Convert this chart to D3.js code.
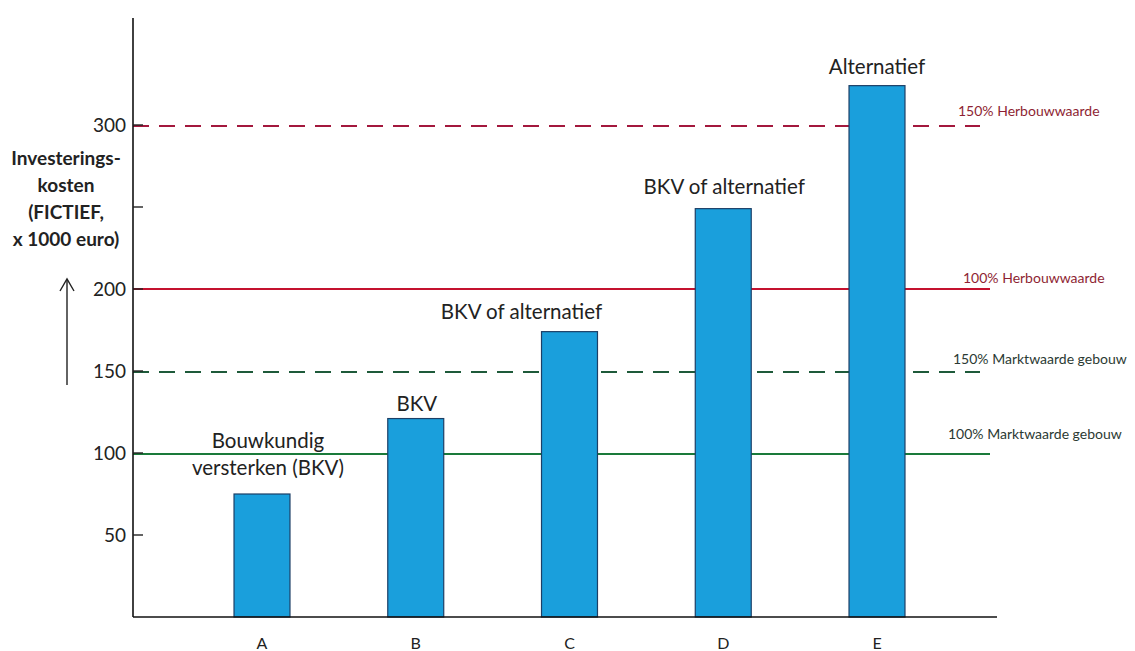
<html>
<head>
<title>Investeringskosten</title>
<script src="https://d3js.org/d3.v7.min.js"></script>
<style>
body { margin: 0; background: #fff; }
svg text { font-family: Lato, "Open Sans", sans-serif; fill: #222; }
.tick-label { font-size: 19px; }
.cat-label { font-size: 16px; }
.bar-label { font-size: 20.5px; }
.ref-label { font-size: 14px; }
.axis-title { font-size: 19px; font-weight: bold; }
</style>
</head>
<body>
<div id="vis_container"></div>
<script>
// data
var categories = ["A", "B", "C", "D", "E"];
var costs = [75, 121, 174, 249, 324];
var barLabels = [["Bouwkundig", "versterken (BKV)"], ["BKV"], ["BKV of alternatief"], ["BKV of alternatief"], ["Alternatief"]];
var tickValues = [50, 100, 150, 200, 250, 300];
var tickLabels = ["50", "100", "150", "200", "", "300"];
var refValues = [300, 200, 150, 100];
var refNames = ["150% Herbouwwaarde", "100% Herbouwwaarde", "150% Marktwaarde gebouw", "100% Marktwaarde gebouw"];
var refColors = ["#a3183d", "#c4122f", "#1e5a3a", "#1a7a3a"];
var refDashed = [true, false, true, false];

var width = 1135, height = 651;
var left = 133, base = 617;

var svg = d3.select("#vis_container").append("svg")
    .attr("width", width).attr("height", height);

var y = d3.scaleLinear().domain([0, 300]).range([base, 125]);
var x = d3.scaleBand().domain(categories)
    .range([left, 1006]).paddingInner(0.636).paddingOuter(0.657);

// reference lines (behind the bars)
var refEnd = [980, 990, 980, 990];
var refShift = [1, 0, 1, 1];
svg.selectAll("line.ref").data(refValues).enter().append("line")
    .attr("class", "ref")
    .attr("x1", left).attr("x2", function(d, i) { return refEnd[i]; })
    .attr("y1", function(d, i) { return y(d) + refShift[i]; })
    .attr("y2", function(d, i) { return y(d) + refShift[i]; })
    .attr("stroke", function(d, i) { return refColors[i]; })
    .attr("stroke-width", 2.2)
    .attr("stroke-dasharray", function(d, i) { return refDashed[i] ? "16,10" : null; });

var refLabelX = [958, 963, 953, 948];
var refLabelDy = [-9, -6, -7, -14];
svg.selectAll("text.ref").data(refValues).enter().append("text")
    .attr("class", "ref-label")
    .attr("x", function(d, i) { return refLabelX[i]; })
    .attr("y", function(d, i) { return y(d) + refLabelDy[i]; })
    .style("fill", function(d, i) { return i < 2 ? "#8e1f33" : "#2b3a33"; })
    .text(function(d, i) { return refNames[i]; });

// bars
svg.selectAll("rect.bar").data(costs).enter().append("rect")
    .attr("class", "bar")
    .attr("x", function(d, i) { return x(categories[i]); })
    .attr("width", x.bandwidth())
    .attr("y", function(d) { return y(d); })
    .attr("height", function(d) { return base - y(d); })
    .attr("fill", "#1a9fdc")
    .attr("stroke", "#1c3f66")
    .attr("stroke-width", 1.2);

// labels above bars
var labelShift = [6, 1, -48, 1, 0];
var labelGap = [[-46, -19], [-8], [-13], [-15], [-12]];
categories.forEach(function(c, i) {
    barLabels[i].forEach(function(line, j) {
        svg.append("text")
            .attr("class", "bar-label")
            .attr("x", x(c) + x.bandwidth() / 2 + labelShift[i])
            .attr("y", y(costs[i]) + labelGap[i][j])
            .attr("text-anchor", "middle")
            .text(line);
    });
});

// axes
svg.append("line").attr("x1", left).attr("x2", left).attr("y1", 18).attr("y2", base)
    .attr("stroke", "#111").attr("stroke-width", 1.6);
svg.append("line").attr("x1", left).attr("x2", 997).attr("y1", base).attr("y2", base)
    .attr("stroke", "#111").attr("stroke-width", 1.6);

svg.selectAll("line.tick").data(tickValues).enter().append("line")
    .attr("x1", left).attr("x2", left + 10)
    .attr("y1", function(d) { return y(d); }).attr("y2", function(d) { return y(d); })
    .attr("stroke", "#222").attr("stroke-width", 1.4);

svg.selectAll("text.tick").data(tickValues).enter().append("text")
    .attr("class", "tick-label")
    .attr("x", left - 7)
    .attr("y", function(d) { return y(d) + 7; })
    .attr("text-anchor", "end")
    .text(function(d, i) { return tickLabels[i]; });

svg.selectAll("text.cat").data(categories).enter().append("text")
    .attr("class", "cat-label")
    .attr("x", function(d) { return x(d) + x.bandwidth() / 2; })
    .attr("y", 649)
    .attr("text-anchor", "middle")
    .text(function(d) { return d; });

// y title and arrow
var titleLines = ["Investerings-", "kosten", "(FICTIEF,", "x 1000 euro)"];
svg.selectAll("text.title").data(titleLines).enter().append("text")
    .attr("class", "axis-title")
    .attr("x", 66)
    .attr("y", function(d, i) { return 165 + i * 27; })
    .attr("text-anchor", "middle")
    .text(function(d) { return d; });

svg.append("line").attr("x1", 67).attr("x2", 67).attr("y1", 385).attr("y2", 279)
    .attr("stroke", "#222").attr("stroke-width", 1.4);
svg.append("path").attr("d", "M60,291 L67,279 L74,291")
    .attr("fill", "none").attr("stroke", "#222").attr("stroke-width", 1.4);
</script>
</body>
</html>
